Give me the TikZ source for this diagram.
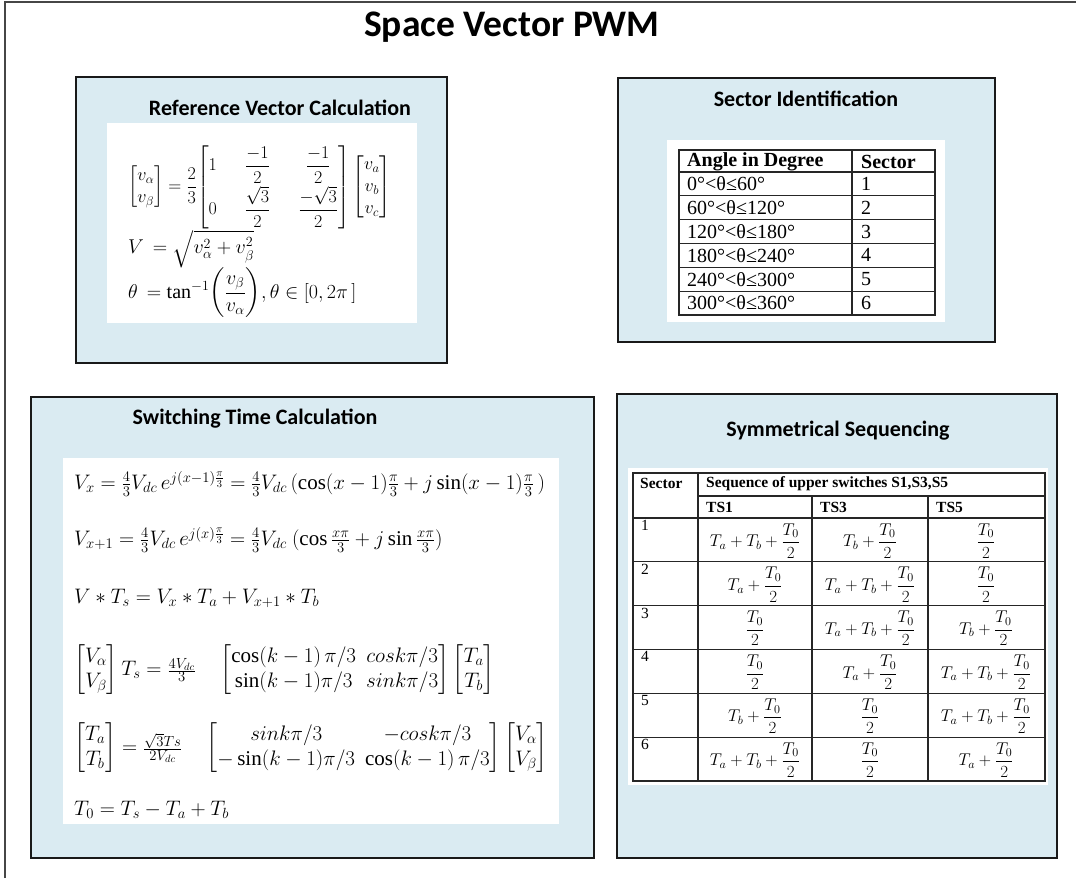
\RequirePackage{fix-cm}
\documentclass[tikz,border=0pt]{standalone}
\usepackage{amsmath}
\usepackage{fontspec}
\setmainfont{Liberation Serif}
\newfontfamily\headfont{Carlito}
\definecolor{panelblue}{RGB}{218,235,242}
\definecolor{edgeline}{RGB}{25,25,25}
\definecolor{framegray}{RGB}{70,70,70}
\newcommand\halfz{\dfrac{T_0}{2}}
\newcommand\smallfrac[2]{{\scriptstyle\frac{\scriptstyle #1}{\scriptstyle #2}}}

\begin{document}
\begin{tikzpicture}[x=1pt,y=-1pt,
  frame/.style={draw=framegray, line width=2pt},
  panel/.style={draw=edgeline, line width=1.6pt, fill=panelblue},
  inset/.style={fill=white},
  maintitle/.style={font=\headfont\bfseries\fontsize{37.5}{40}\selectfont, inner sep=0pt},
  heading/.style={font=\headfont\bfseries\fontsize{22}{25}\selectfont, inner sep=0pt},
  eqtop/.style={anchor=west, inner sep=0pt, font=\fontsize{20}{24}\selectfont},
  eqlow/.style={anchor=west, inner sep=0pt, font=\fontsize{21}{25}\selectfont},
  grid/.style={draw=black!85, line width=1.1pt},
  tcell/.style={anchor=west, inner sep=0pt, font=\fontsize{20}{22}\selectfont},
  thead/.style={tcell, font=\bfseries\fontsize{20}{22}\selectfont},
  shead/.style={anchor=west, inner sep=0pt, font=\bfseries\fontsize{15.5}{17}\selectfont},
  snum/.style={anchor=north west, inner sep=0pt, font=\fontsize{15.5}{17}\selectfont},
  smath/.style={inner sep=0pt, font=\fontsize{17}{19}\selectfont}
]
\useasboundingbox (0,0) rectangle (1076,878);
\fill[white] (0,0) rectangle (1076,878);
\draw[frame] (5,878) -- (5,1.5) -- (1076,1.5);

\node[maintitle] (title) at (512,27) {Space Vector PWM};

% ---------- reference vector calculation ----------
\draw[panel] (76,77) rectangle (447,363);
\fill[inset] (107,123) rectangle (417,323);
\node[heading] (hRef) at (280,108) {Reference Vector Calculation};
\node[eqtop, font=\fontsize{18}{22}\selectfont] (rv1) at (128,187) {$\begin{bmatrix} v_\alpha\\ v_\beta\end{bmatrix} = \dfrac{2}{3}{\setlength\arraycolsep{14pt}\begin{bmatrix} 1 & \dfrac{-1}{2} & \dfrac{-1}{2}\\[9pt] 0 & \dfrac{\sqrt3}{2} & \dfrac{-\sqrt3}{2}\end{bmatrix}}\begin{bmatrix} v_a\\ v_b\\ v_c\end{bmatrix}$};
\node[eqtop] (rv2) at (128,249) {$V\,=\sqrt{v_\alpha^2+v_\beta^2}$};
\node[eqtop] (rv3) at (128,293) {$\theta\,=\tan^{-1}\!\left(\dfrac{v_\beta}{v_\alpha}\right)\!,\theta\in[0,2\pi\,]$};

% ---------- sector identification ----------
\draw[panel] (618,78) rectangle (995,342);
\fill[inset] (667,140) rectangle (945,322);
\node[heading] (hSec) at (806,99) {Sector Identification};
\draw[grid] (679,150) rectangle (935,315);
\draw[grid] (852,150) -- (852,315);
\foreach \k in {0,...,5} \draw[grid] (679,{172+23.83*\k}) -- (935,{172+23.83*\k});
\node[thead] (angH) at (687,162) {Angle in Degree};
\node[thead] (secH) at (861,162) {Sector};
\foreach \a [count=\i] in {0°<θ≤60°, 60°<θ≤120°, 120°<θ≤180°, 180°<θ≤240°, 240°<θ≤300°, 300°<θ≤360°} {
  \node[tcell] (ang\i) at (687,{172+23.83*(\i-0.5)}) {\a};
  \node[tcell] (sec\i) at (861,{172+23.83*(\i-0.5)}) {\i};
}

% ---------- switching time calculation ----------
\draw[panel] (31,397) rectangle (594,858);
\fill[inset] (63,458) rectangle (559,824);
\node[heading] (hSw) at (255,419) {Switching Time Calculation};
\node[eqlow] (sw1) at (74,484) {$V_x=\tfrac{4}{3}V_{dc}\,e^{j(x-1)\frac{\pi}{3}}=\tfrac{4}{3}V_{dc}\,(\cos(x-1)\tfrac{\pi}{3}+j\sin(x-1)\tfrac{\pi}{3}\,)$};
\node[eqlow] (sw2) at (74,540) {$V_{x+1}=\tfrac{4}{3}V_{dc}\,e^{j(x)\frac{\pi}{3}}=\tfrac{4}{3}V_{dc}\ (\cos\tfrac{x\pi}{3}+j\sin\tfrac{x\pi}{3})$};
\node[eqlow] (sw3) at (74,598) {$V*T_s=V_x*T_a+V_{x+1}*T_b$};
\node[eqlow] (sw4) at (74,670) {$\begin{bmatrix}V_\alpha\\ V_\beta\end{bmatrix}T_s=\smallfrac{4V_{dc}}{3}\quad\begin{bmatrix}\cos(k-1)\,\pi/3 & cosk\pi/3\\ \sin(k-1)\pi/3 & sink\pi/3\end{bmatrix}\begin{bmatrix}T_a\\ T_b\end{bmatrix}$};
\node[eqlow] (sw5) at (74,748) {$\begin{bmatrix}T_a\\ T_b\end{bmatrix}=\smallfrac{\sqrt{3}Ts}{2V_{dc}}\quad\begin{bmatrix}sink\pi/3 & -cosk\pi/3\\ -\sin(k-1)\pi/3 & \cos(k-1)\,\pi/3\end{bmatrix}\begin{bmatrix}V_\alpha\\ V_\beta\end{bmatrix}$};
\node[eqlow] (sw6) at (74,810) {$T_0=T_s-T_a+T_b$};

% ---------- symmetrical sequencing ----------
\draw[panel] (617,394) rectangle (1057,858);
\fill[inset] (628,468) rectangle (1048,785);
\node[heading] (hSeq) at (838,431) {Symmetrical Sequencing};
\draw[grid] (633,473) rectangle (1045,781);
\draw[grid] (698,473) -- (698,781);
\draw[grid] (812,496) -- (812,781);
\draw[grid] (928,496) -- (928,781);
\draw[grid] (698,496) -- (1045,496);
\foreach \k in {0,...,5} \draw[grid] (633,{518+43.83*\k}) -- (1045,{518+43.83*\k});
\node[shead] (sqSec) at (640,483) {Sector};
\node[shead] (sqSeq) at (706,484) {Sequence of upper switches S1,S3,S5};
\node[shead] (ts1) at (706,507) {TS1};
\node[shead] (ts3) at (820,507) {TS3};
\node[shead] (ts5) at (936,507) {TS5};
\foreach \p/\q/\r [count=\i] in {
  {$T_a+T_b+\halfz$}/{$T_b+\halfz$}/{$\halfz$},
  {$T_a+\halfz$}/{$T_a+T_b+\halfz$}/{$\halfz$},
  {$\halfz$}/{$T_a+T_b+\halfz$}/{$T_b+\halfz$},
  {$\halfz$}/{$T_a+\halfz$}/{$T_a+T_b+\halfz$},
  {$T_b+\halfz$}/{$\halfz$}/{$T_a+T_b+\halfz$},
  {$T_a+T_b+\halfz$}/{$\halfz$}/{$T_a+\halfz$}} {
  \node[snum] (rn\i) at (641,{518+43.83*(\i-1)+2}) {\i};
  \node[smath] (c\i a) at (755,{518+43.83*(\i-0.5)+1}) {\p};
  \node[smath] (c\i b) at (870,{518+43.83*(\i-0.5)+1}) {\q};
  \node[smath] (c\i c) at (986,{518+43.83*(\i-0.5)+1}) {\r};
}
\end{tikzpicture}
\end{document}
